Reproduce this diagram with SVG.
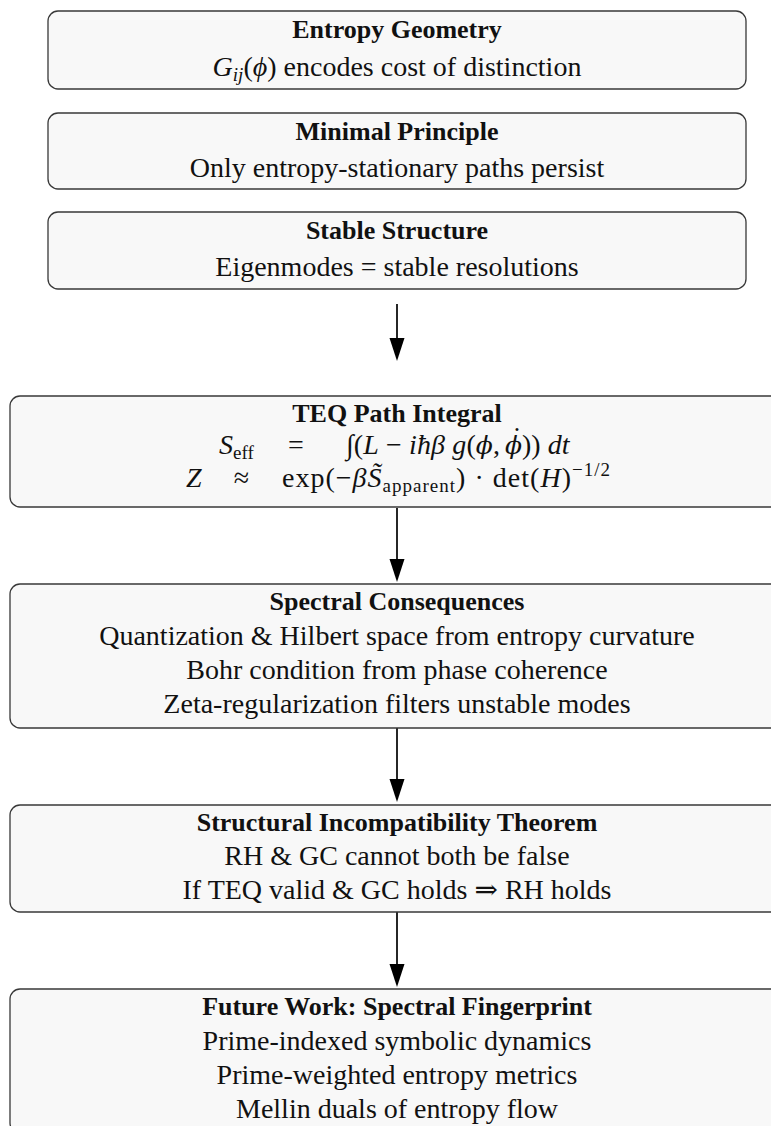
<svg xmlns="http://www.w3.org/2000/svg" width="771" height="1126" viewBox="0 0 771 1126">
<style>
  .box { fill: #f8f8f8; stroke: #383838; stroke-width: 1.3; }
  text { font-family: "Liberation Serif", "DejaVu Serif", serif; fill: #111; }
  .t { font-size: 26px; font-weight: bold; text-anchor: middle; }
  .b { font-size: 28px; text-anchor: middle; }
  .m { font-size: 28px; }
  .i { font-style: italic; }
  .s { font-size: 19px; }
  .dv { font-family: "DejaVu Serif", serif; font-size: 25px; font-style: italic; }
  .conn { stroke: #000; stroke-width: 1.7; fill: none; marker-end: url(#ah); }
</style>
<defs>
  <marker id="ah" viewBox="0 0 24 16" markerWidth="24" markerHeight="16" refX="18" refY="8" orient="auto" markerUnits="userSpaceOnUse">
    <path d="M0,0.5 L23,8 L0,15.5 z" fill="#000"/>
  </marker>
</defs>
<rect width="771" height="1126" fill="#ffffff"/>

<g id="connectors">
  <line class="conn" x1="397" y1="304" x2="397" y2="356"/>
  <line class="conn" x1="397" y1="508" x2="397" y2="577"/>
  <line class="conn" x1="397" y1="728" x2="397" y2="797"/>
  <line class="conn" x1="397" y1="912" x2="397" y2="982"/>
</g>

<g id="entropy-geometry">
  <rect class="box" x="48" y="11" width="698" height="78" rx="10"/>
  <text class="t" x="397" y="38">Entropy Geometry</text>
  <text class="b" x="397" y="76"><tspan class="i">G</tspan><tspan class="s i" dy="5">ij</tspan><tspan dy="-5">(</tspan><tspan class="i">ϕ</tspan>) encodes cost of distinction</text>
</g>

<g id="minimal-principle">
  <rect class="box" x="48" y="113" width="698" height="76" rx="10"/>
  <text class="t" x="397" y="140">Minimal Principle</text>
  <text class="b" x="397" y="177">Only entropy-stationary paths persist</text>
</g>

<g id="stable-structure">
  <rect class="box" x="48" y="212" width="698" height="77" rx="10"/>
  <text class="t" x="397" y="239">Stable Structure</text>
  <text class="b" x="397" y="276">Eigenmodes = stable resolutions</text>
</g>

<g id="teq-path-integral">
  <rect class="box" x="10" y="396" width="774" height="111" rx="10"/>
  <text class="t" x="397" y="422">TEQ Path Integral</text>
  <text class="m" x="219" y="454"><tspan class="i">S</tspan><tspan class="s" dy="5">eff</tspan></text>
  <text class="m" x="296" y="454" text-anchor="middle">=</text>
  <text class="m" x="346" y="454" textLength="154"><tspan>∫(</tspan><tspan class="i">L</tspan><tspan> − </tspan><tspan class="i">iħβ g</tspan><tspan>(</tspan><tspan class="dv">ϕ</tspan><tspan>,</tspan></text>
  <text class="m" x="505" y="454"><tspan class="dv">ϕ</tspan><tspan>)) </tspan><tspan class="i">dt</tspan></text>
  <text class="m" x="517" y="446" text-anchor="middle">˙</text>
  <text class="m i" x="186" y="487">Z</text>
  <text class="m" x="241.5" y="487" text-anchor="middle">≈</text>
  <text class="m" x="282" y="487" textLength="328"><tspan>exp(−</tspan><tspan class="i">βS̃</tspan><tspan class="s" dy="5">apparent</tspan><tspan dy="-5">) · det(</tspan><tspan class="i">H</tspan><tspan>)</tspan><tspan class="s" dy="-11">−1/2</tspan></text>
</g>

<g id="spectral-consequences">
  <rect class="box" x="10" y="584" width="774" height="144" rx="10"/>
  <text class="t" x="397" y="610">Spectral Consequences</text>
  <text class="b" x="397" y="645">Quantization &amp; Hilbert space from entropy curvature</text>
  <text class="b" x="397" y="679">Bohr condition from phase coherence</text>
  <text class="b" x="397" y="713">Zeta-regularization filters unstable modes</text>
</g>

<g id="structural-incompatibility">
  <rect class="box" x="10" y="805" width="774" height="107" rx="10"/>
  <text class="t" x="397" y="831">Structural Incompatibility Theorem</text>
  <text class="b" x="397" y="865">RH &amp; GC cannot both be false</text>
  <text class="b" x="397" y="899">If TEQ valid &amp; GC holds ⇒ RH holds</text>
</g>

<g id="future-work">
  <rect class="box" x="10" y="989" width="774" height="144" rx="10"/>
  <text class="t" x="397" y="1015">Future Work: Spectral Fingerprint</text>
  <text class="b" x="397" y="1050">Prime-indexed symbolic dynamics</text>
  <text class="b" x="397" y="1084">Prime-weighted entropy metrics</text>
  <text class="b" x="397" y="1118">Mellin duals of entropy flow</text>
</g>
</svg>
